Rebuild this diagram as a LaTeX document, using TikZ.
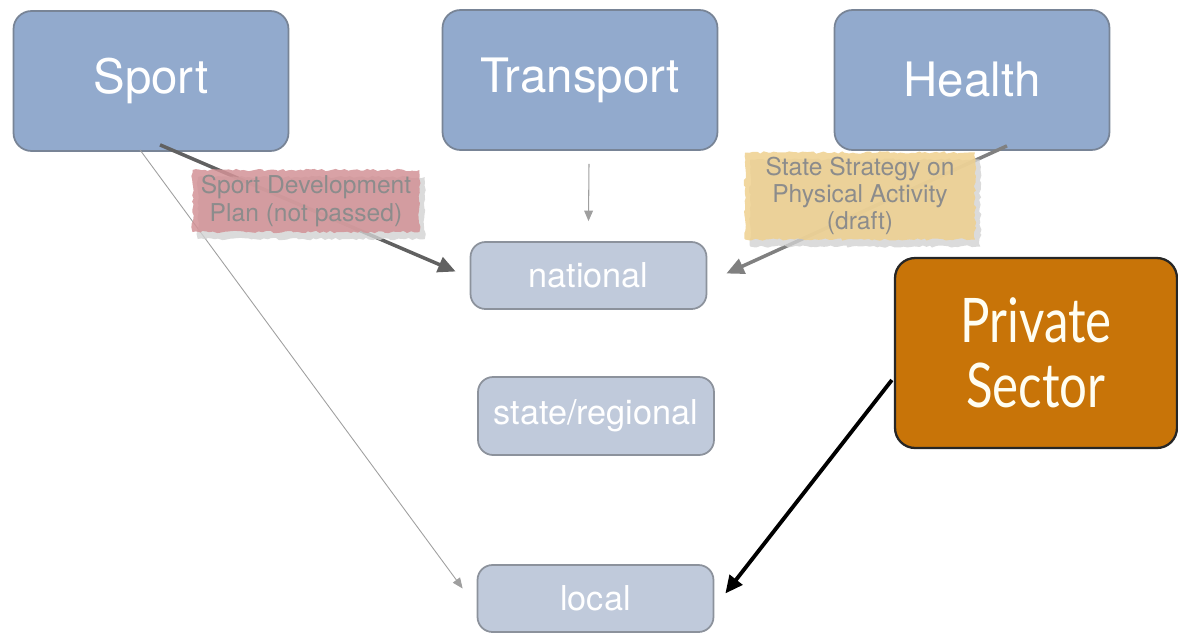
\documentclass[tikz,border=0pt]{standalone}
\usepackage{fontspec}
\setmainfont{TeX Gyre Heros}
\newfontfamily\gillfont[FakeStretch=0.8]{Lato}
\usetikzlibrary{arrows.meta,calc,shadows,decorations.pathmorphing}

\definecolor{boxblue}{RGB}{146,170,205}
\definecolor{boxedge}{RGB}{120,132,150}
\definecolor{levelblue}{RGB}{192,202,219}
\definecolor{leveledge}{RGB}{140,146,156}
\definecolor{privorange}{RGB}{200,116,8}
\definecolor{notered}{RGB}{210,146,150}
\definecolor{noteyellow}{RGB}{238,208,142}
\definecolor{notetext}{RGB}{140,140,140}

\begin{document}
\begin{tikzpicture}[x=0.02cm, y=-0.02cm,
	topic/.style={draw=boxedge, line width=1pt, fill=boxblue, rounded corners=0.36cm,
		minimum width=5.5cm, minimum height=2.8cm, text=white,
		font=\fontsize{27}{30}\selectfont},
	level/.style={draw=leveledge, line width=1pt, fill=levelblue, rounded corners=0.3cm,
		minimum width=4.72cm, text=white, font=\fontsize{19.5}{22}\selectfont},
	note/.style={fill opacity=0.85, text opacity=1, text=notetext, align=center,
		inner sep=0pt, font=\fontsize{14}{15.5}\selectfont,
		decorate, decoration={random steps, segment length=2pt, amplitude=0.7pt},
		drop shadow={shadow xshift=3pt, shadow yshift=-4pt, fill=gray!35, opacity=0.8}},
	thinarrow/.style={draw=gray!75, line width=0.6pt, -{Triangle[length=6pt, width=5pt]}},
	thickarrow/.style={line width=2pt, -{Triangle[length=10pt, width=9pt]}}]
	\useasboundingbox (0,0) rectangle (1178,633);
	% sectors
	\node[topic] (sport) at (151,81) {Sport};
	\node[topic] (transport) at (580,80) {Transport};
	\node[topic] (health) at (972,80) {Health};
	% levels of government
	\node[level, minimum height=1.34cm] (national) at (588.5,275.5) {national};
	\node[level, minimum height=1.56cm] (state) at (596,416) {state/regional};
	\node[level, minimum height=1.34cm] (local) at (595.5,598.5) {local};
	% private sector
	\node[draw=black!85, line width=1.3pt, fill=privorange, rounded corners=0.4cm,
		minimum width=5.64cm, minimum height=3.8cm, text=white!95!yellow, align=center,
		font=\gillfont\fontsize{35}{37}\selectfont] (private) at (1036,353) {Private\\Sector};
	% links
	\draw[thinarrow, line width=0.5pt] ($(sport.south)+(-11,-2)$) -- ($(local.west)+(-14,-10)$);
	\draw[thickarrow, draw=black!62] ($(sport.south)+(9,-7)$) -- ($(national.west)+(-14,-4)$);
	\draw[thinarrow] ($(transport.south)+(9,13)$) -- ($(national.north)+(0,-20)$);
	\draw[thickarrow, draw=black!50] ($(health.south)+(35,-5)$) -- ($(national.east)+(19,-2)$);
	\draw[thickarrow, draw=black, line width=2.2pt] ($(private.west)+(-2,27)$) -- ($(local.east)+(11,-5)$);
	% policy notes
	\node[note, fill=notered, minimum width=4.54cm, minimum height=1.24cm] (sdp) at (306,201)
		{Sport Development\\Plan (not passed)};
	\node[note, fill=noteyellow, minimum width=4.6cm, minimum height=1.74cm] (sspa) at (860,196)
		{State Strategy on\\Physical Activity\\(draft)};
\end{tikzpicture}
\end{document}
